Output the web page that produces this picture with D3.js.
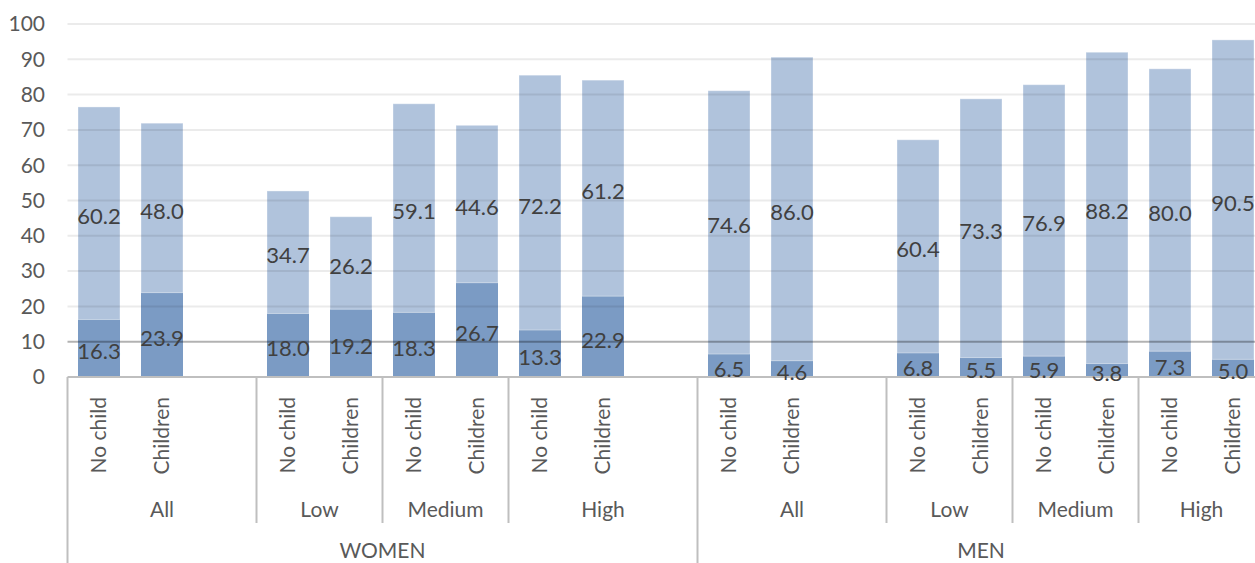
<!DOCTYPE html>
<meta charset="utf-8">
<style>
  body { margin: 0; background: #fff; }
  text { font-family: Lato, sans-serif; }
</style>
<script src="https://d3js.org/d3.v7.min.js"></script>
<div id="chart"></div>
<script>
  // values
  var genders = ["WOMEN", "MEN"];
  var levels = ["All", "Low", "Medium", "High"];
  var kids = ["No child", "Children"];
  var yTicks = [0, 10, 20, 30, 40, 50, 60, 70, 80, 90, 100];

  // order: All NC, All Ch, Low NC, Low Ch, Medium NC, Medium Ch, High NC, High Ch
  var womenBase = [16.3, 23.9, 18.0, 19.2, 18.3, 26.7, 13.3, 22.9];
  var womenUpper = [60.2, 48.0, 34.7, 26.2, 59.1, 44.6, 72.2, 61.2];
  var menBase = [6.5, 4.6, 6.8, 5.5, 5.9, 3.8, 7.3, 5.0];
  var menUpper = [74.6, 86.0, 60.4, 73.3, 76.9, 88.2, 80.0, 90.5];

  // empty rows in the source sheet
  var blankAfter = { WOMEN: ["All", "High"], MEN: ["All"] };
  var refLine = 10;

  var baseVals = { WOMEN: womenBase, MEN: menBase },
      upperVals = { WOMEN: womenUpper, MEN: menUpper };

  var width = 1255, height = 563;
  var barColor = "#7b9bc4";

  var rows = [];
  genders.forEach(function(g) {
    levels.forEach(function(l, li) {
      kids.forEach(function(k, ki) {
        var i = li * 2 + ki;
        rows.push({ id: rows.length, g: g, l: l, k: k, base: baseVals[g][i], upper: upperVals[g][i] });
      });
      if (blankAfter[g].indexOf(l) >= 0) rows.push({ id: rows.length, g: g, l: l, k: "", blank: true });
    });
  });

  var svg = d3.select("#chart").append("svg")
      .attr("width", width)
      .attr("height", height);

  var x = d3.scaleBand()
      .domain(rows.map(function(d) { return d.id; }))
      .range([67.5, 1264.5])
      .paddingInner(1 / 3)
      .paddingOuter(1 / 6);
  var y = d3.scaleLinear().domain([0, 100]).range([377, 24]);

  var step = x.step(), bw = x.bandwidth();
  function slotStart(id) { return x(id) - (step - bw) / 2; }

  // y tick labels
  svg.append("g").selectAll("text")
    .data(yTicks)
    .enter().append("text")
      .attr("x", 45)
      .attr("y", function(d) { return y(d); })
      .attr("dy", "0.35em")
      .attr("text-anchor", "end")
      .style("font-size", "21px")
      .style("fill", "#595959")
      .text(function(d) { return d; });

  var data = rows.filter(function(d) { return !d.blank; });

  // bars: dark base + lighter stacked part
  svg.append("g").selectAll("rect")
    .data(data)
    .enter().append("rect")
      .attr("x", function(d) { return x(d.id); })
      .attr("y", function(d) { return y(d.base); })
      .attr("width", bw)
      .attr("height", function(d) { return y(0) - y(d.base); })
      .style("fill", barColor);

  svg.append("g").selectAll("rect")
    .data(data)
    .enter().append("rect")
      .attr("x", function(d) { return x(d.id); })
      .attr("y", function(d) { return y(d.base + d.upper); })
      .attr("width", bw)
      .attr("height", function(d) { return y(d.base) - y(d.base + d.upper); })
      .style("fill", barColor)
      .style("fill-opacity", 0.6)
      .style("stroke", "#fff")
      .style("stroke-opacity", 0.35);

  // gridlines on top, see-through
  svg.append("g").selectAll("line")
    .data(yTicks.filter(function(d) { return d > 0; }))
    .enter().append("line")
      .attr("x1", 67.5).attr("x2", width)
      .attr("y1", function(d) { return y(d); })
      .attr("y2", function(d) { return y(d); })
      .style("stroke", "#000")
      .style("stroke-opacity", function(d) { return d === refLine ? 0.3 : 0.08; })
      .style("stroke-width", 2);

  // horizontal axis
  svg.append("line")
      .attr("x1", 67.5).attr("x2", width)
      .attr("y1", y(0)).attr("y2", y(0))
      .style("stroke", "#bfbfbf").style("stroke-width", 2);

  // group separators
  var byGender = d3.groups(rows, function(d) { return d.g; });
  var seps = [];
  byGender.forEach(function(gg) {
    var lv = d3.groups(gg[1], function(d) { return d.l; });
    lv.forEach(function(l, i) {
      seps.push({ id: l[1][0].id, full: i === 0 });
    });
  });
  var sepG = svg.append("g");
  sepG.selectAll("line")
    .data(seps)
    .enter().append("line")
      .attr("x1", function(d) { return slotStart(d.id); })
      .attr("x2", function(d) { return slotStart(d.id); })
      .attr("y1", y(0))
      .attr("y2", function(d) { return d.full ? height : 523; })
      .style("stroke", "#bfbfbf").style("stroke-width", 2);
  var lastId = rows[rows.length - 1].id;
  sepG.append("line")
      .attr("x1", slotStart(lastId) + step).attr("x2", slotStart(lastId) + step)
      .attr("y1", y(0)).attr("y2", height)
      .style("stroke", "#bfbfbf").style("stroke-width", 2);

  // value labels
  var lab = svg.append("g")
      .style("font-size", "22px")
      .style("fill", "#404040")
      .attr("text-anchor", "middle");
  lab.selectAll("text.b")
    .data(data)
    .enter().append("text")
      .attr("class", "b")
      .attr("x", function(d) { return x(d.id) + bw / 2; })
      .attr("y", function(d) { return y(d.base / 2); })
      .attr("dy", "0.5em")
      .text(function(d) { return d.base.toFixed(1); });
  lab.selectAll("text.u")
    .data(data)
    .enter().append("text")
      .attr("class", "u")
      .attr("x", function(d) { return x(d.id) + bw / 2; })
      .attr("y", function(d) { return y(d.base + d.upper / 2); })
      .attr("dy", "0.5em")
      .text(function(d) { return d.upper.toFixed(1); });

  // category labels
  var cat = svg.append("g")
      .style("font-size", "21px")
      .style("fill", "#595959");
  cat.selectAll("text.k")
    .data(data)
    .enter().append("text")
      .attr("class", "k")
      .attr("transform", function(d) { return "translate(" + (x(d.id) + bw / 2) + ",397) rotate(-90)"; })
      .attr("dy", "0.35em")
      .attr("text-anchor", "end")
      .text(function(d) { return d.k; });

  byGender.forEach(function(gg) {
    var gRows = gg[1];
    var gl = slotStart(gRows[0].id), gr = slotStart(gRows[gRows.length - 1].id) + step;
    cat.append("text")
      .attr("x", (gl + gr) / 2)
      .attr("y", 558)
      .attr("text-anchor", "middle")
      .text(gg[0]);
    d3.groups(gRows, function(d) { return d.l; }).forEach(function(l) {
      var ll = slotStart(l[1][0].id), lr = slotStart(l[1][l[1].length - 1].id) + step;
      cat.append("text")
        .attr("x", (ll + lr) / 2)
        .attr("y", 517)
        .attr("text-anchor", "middle")
        .text(l[0]);
    });
  });
</script>
